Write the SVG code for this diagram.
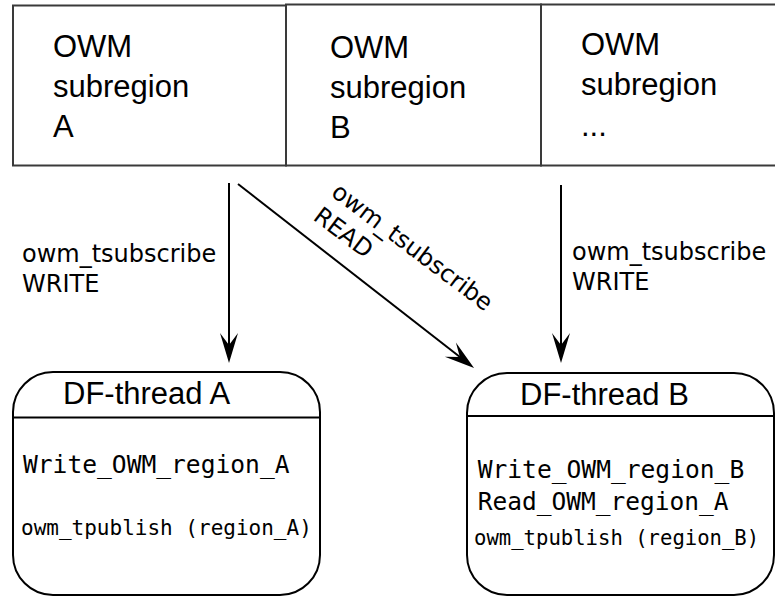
<svg xmlns="http://www.w3.org/2000/svg" width="775" height="597" viewBox="0 0 775 597">
<style>
.region{fill:#fff;stroke:#3a3a3a;stroke-width:2}
.rt{font-family:"Liberation Sans",Arial,sans-serif;font-size:31px;fill:#000}
.lbl{font-family:"DejaVu Sans",sans-serif;font-size:24px;fill:#000}
.thread{fill:#fff;stroke:#000;stroke-width:2}
.div{stroke:#000;stroke-width:2}
.mono{font-family:"DejaVu Sans Mono",monospace;fill:#000}
.edge{stroke:#000;stroke-width:2;fill:none;marker-end:url(#arr)}
</style>
<defs>
<marker id="arr" markerUnits="userSpaceOnUse" markerWidth="40" markerHeight="40" viewBox="-20 -20 40 40" refX="0" refY="0" orient="auto" overflow="visible">
<path d="M15,0 L-15,-9 L-3,0 L-15,9 Z" fill="#000"/>
</marker>
</defs>
<rect width="775" height="597" fill="#fff"/>
<g id="regionA">
<rect class="region" x="13" y="5.5" width="273" height="160"/>
<text class="rt" x="53" y="57">OWM</text>
<text class="rt" x="53" y="97">subregion</text>
<text class="rt" x="53" y="137">A</text>
</g>
<g id="regionB">
<rect class="region" x="286" y="4.5" width="255" height="161"/>
<text class="rt" x="330" y="58">OWM</text>
<text class="rt" x="330" y="98">subregion</text>
<text class="rt" x="330" y="138">B</text>
</g>
<g id="regionC">
<rect class="region" x="541" y="4.5" width="260" height="161"/>
<text class="rt" x="581" y="55">OWM</text>
<text class="rt" x="581" y="95">subregion</text>
<text class="rt" x="581" y="136">...</text>
</g>
<g id="connectors">
<line class="edge" x1="229" y1="183" x2="229" y2="348"/>
<line class="edge" x1="238" y1="184" x2="462.2" y2="358.8"/>
<line class="edge" x1="561" y1="185" x2="561" y2="348"/>
<text class="lbl" x="22" y="262">owm_tsubscribe</text>
<text class="lbl" x="22" y="292">WRITE</text>
<text class="lbl" x="572" y="260">owm_tsubscribe</text>
<text class="lbl" x="572" y="290">WRITE</text>
<g transform="translate(330,195) rotate(37)">
<text class="lbl" x="0" y="0">owm_tsubscribe</text>
<text class="lbl" x="0" y="30">READ</text>
</g>
</g>
<g id="threadA">
<rect class="thread" x="13" y="372" width="307" height="223" rx="40" ry="40"/>
<line class="div" x1="13" y1="417.5" x2="320" y2="417.5"/>
<text class="rt" x="63" y="404">DF-thread A</text>
<text class="mono" x="23" y="473" font-size="24.6">Write_OWM_region_A</text>
<text class="mono" x="21" y="535" font-size="21">owm_tpublish (region_A)</text>
</g>
<g id="threadB">
<rect class="thread" x="467" y="373" width="307" height="222" rx="40" ry="40"/>
<line class="div" x1="467" y1="416" x2="774" y2="416"/>
<text class="rt" x="520" y="405">DF-thread B</text>
<text class="mono" x="477.7" y="478" font-size="24.6">Write_OWM_region_B</text>
<text class="mono" x="477.7" y="510" font-size="24.5">Read_OWM_region_A</text>
<text class="mono" x="474" y="545" font-size="20.6">owm_tpublish (region_B)</text>
</g>
</svg>
